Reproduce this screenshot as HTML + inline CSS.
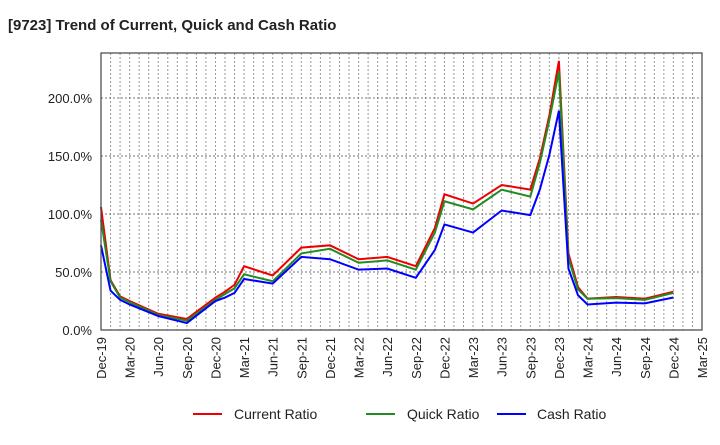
<!DOCTYPE html>
<html><head><meta charset="utf-8"><style>body{margin:0;background:#fff}svg{font-family:"Liberation Sans",sans-serif}</style></head>
<body>
<svg id="c" width="720" height="440">
<text x="8" y="30" font-size="15" font-weight="bold" fill="#222">[9723]  Trend of Current, Quick and Cash Ratio</text>
<g id="grid"></g><g id="axes"></g><g id="series"></g>
<rect x="101" y="53" width="601" height="277" fill="none" stroke="#444" stroke-width="1.2"/>
<g>
<line x1="193" y1="414" x2="222" y2="414" stroke="#e00" stroke-width="2"/><text x="234" y="419" font-size="14" fill="#222">Current Ratio</text>
<line x1="366" y1="414" x2="395" y2="414" stroke="#228b22" stroke-width="2"/><text x="407" y="419" font-size="14" fill="#222">Quick Ratio</text>
<line x1="497" y1="414" x2="526" y2="414" stroke="#00f" stroke-width="2"/><text x="537" y="419" font-size="14" fill="#222">Cash Ratio</text>
</g>
</svg>
<script>
const months=[0,1,2,3,6,9,12,13,14,15,18,21,24,27,30,33,35,36,39,42,45,46,47,48,49,50,51,54,57,60];
const currentRatio=[106,43,29,25,14,9.5,28,33,39,55,47,71,73,61,63,55,88,117,109,125,121,148,185,232,66,37,27,28.5,27,33];
const quickRatio=[95,42,28,24,13,8,26,31,36,48,42,66,70,58,60,52,84,111,104,121,115,144,181,223,62,35,27,27.5,26,32];
const cashRatio=[73,34,26,22,12,6,25,28,32,44,40,63,61,52,53,45,69,91,84,103,99,121,151,189,53,30,22,23.6,23,28];
const xLabels=["Dec-19","Mar-20","Jun-20","Sep-20","Dec-20","Mar-21","Jun-21","Sep-21","Dec-21","Mar-22","Jun-22","Sep-22","Dec-22","Mar-23","Jun-23","Sep-23","Dec-23","Mar-24","Jun-24","Sep-24","Dec-24","Mar-25"];
const yTicks=[0,50,100,150,200];
const X=m=>101+m*601/63, Y=v=>330-v*1.16;
const ns="http://www.w3.org/2000/svg";
function mk(t,a,p){const e=document.createElementNS(ns,t);for(const k in a)e.setAttribute(k,a[k]);p.appendChild(e);return e;}
const g=document.getElementById('grid'),ax=document.getElementById('axes'),s=document.getElementById('series');
for(let m=1;m<63;m++){const l=mk('line',{x1:X(m),x2:X(m),y1:53,y2:330,stroke:'#999','stroke-dasharray':'2,2'},g);

}
yTicks.forEach(v=>{if(v>0){const l=mk('line',{x1:101,x2:702,y1:Y(v),y2:Y(v),stroke:'#777','stroke-dasharray':'2,2'},g);

}
const t=mk('text',{x:92,y:Y(v)+5,'font-size':13,'text-anchor':'end',fill:'#222'},ax);t.textContent=v.toFixed(1)+'%';

});
xLabels.forEach((lb,i)=>{const x=X(i*3)+5;const t=mk('text',{x:x,y:337,'font-size':13,'text-anchor':'end',fill:'#222',transform:`rotate(-90 ${x} 337)`},ax);t.textContent=lb;

});
[[currentRatio,'#e00','current-ratio-line'],[quickRatio,'#228b22','quick-ratio-line'],[cashRatio,'#00f','cash-ratio-line']].forEach(([d,c,n])=>{
const p=mk('polyline',{points:d.map((v,i)=>X(months[i])+','+Y(v)).join(' '),fill:'none',stroke:c,'stroke-width':2},s);

});
</script>
</body></html>
